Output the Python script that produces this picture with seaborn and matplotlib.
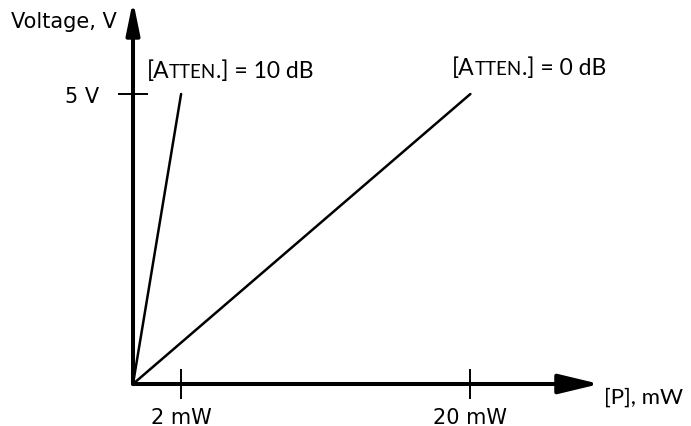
import numpy as np
import pandas as pd
import seaborn as sns
import matplotlib.pyplot as plt
from matplotlib.offsetbox import TextArea, HPacker, AnnotationBbox

power_10db = [0, 2]     # mW
volt_10db = [0, 5]      # V
power_0db = [0, 20]
volt_0db = [0, 5]
x_ticks = [2, 20]
x_tick_labels = ['2 mW', '20 mW']
y_ticks = [5]
y_tick_labels = ['5 V']
atten_labels = ['10 dB', '0 dB']

df = pd.DataFrame({
    'power': power_10db + power_0db,
    'voltage': volt_10db + volt_0db,
    'atten': [atten_labels[0]] * 2 + [atten_labels[1]] * 2,
})

sns.set_style('white')
plt.rcParams['font.family'] = ['DejaVu Sans']
plt.rcParams['text.color'] = 'black'
plt.rcParams['xtick.color'] = 'black'
plt.rcParams['ytick.color'] = 'black'

fig = plt.figure(figsize=(6.91, 4.27), dpi=100)
ax = fig.add_axes([133 / 691, 42 / 427, 462 / 691, 377 / 427])

# schematic x axis is compressed, not linear
k = 0.846
ax.set_xscale('function', functions=(lambda x: np.sign(x) * np.abs(x) ** k,
                                     lambda x: np.sign(x) * np.abs(x) ** (1 / k)))

sns.lineplot(data=df, x='power', y='voltage', units='atten', estimator=None,
             color='black', lw=1.8, ax=ax, legend=False)

ax.set_xlim(0, 29)
ax.set_ylim(0, 6.5)
for s in ax.spines.values():
    s.set_visible(False)

# axes with arrow heads
ax.annotate('', xy=(1.01, 0), xytext=(0, 0), xycoords='axes fraction',
            arrowprops=dict(arrowstyle='-|>,head_length=2.5,head_width=0.6',
                            lw=2.9, color='black', shrinkA=0, shrinkB=0,
                            mutation_scale=10), annotation_clip=False)
ax.annotate('', xy=(0, 1.017), xytext=(0, 0), xycoords='axes fraction',
            arrowprops=dict(arrowstyle='-|>,head_length=1.95,head_width=0.4',
                            lw=2.9, color='black', shrinkA=0, shrinkB=0,
                            mutation_scale=10), annotation_clip=False)

ax.set_xticks(x_ticks)
ax.set_xticklabels(x_tick_labels)
ax.set_yticks(y_ticks)
ax.set_yticklabels(y_tick_labels)
ax.xaxis.set_minor_locator(plt.NullLocator())
ax.tick_params(axis='both', direction='inout', length=21, width=1.4,
               color='black', labelcolor='black', labelsize=15,
               bottom=True, left=True)
ax.tick_params(axis='x', pad=6)
ax.tick_params(axis='y', pad=14)
ax.set_xlabel('')
ax.set_ylabel('')

ax.text(1.019, -0.034, '[P], mW', transform=ax.transAxes, fontsize=16,
        family=['Lato', 'DejaVu Sans'], ha='left', va='center', color='black')
ax.text(-0.035, 0.963, 'Voltage, V', transform=ax.transAxes, fontsize=15,
        ha='right', va='center', color='black')


def small_caps_label(value, xy, offset):
    big = dict(fontsize=16.5, family=['Lato', 'DejaVu Sans'], color='black')
    small = dict(fontsize=13.5, family=['Lato', 'DejaVu Sans'], color='black')
    box = HPacker(children=[TextArea('[A', textprops=big),
                            TextArea('TTEN', textprops=small),
                            TextArea('.] = ' + value, textprops=big)],
                  align='baseline', pad=0, sep=0)
    ab = AnnotationBbox(box, xy, xybox=offset, xycoords='data',
                        boxcoords='offset points', box_alignment=(0, 0.5),
                        frameon=False, annotation_clip=False)
    ax.add_artist(ab)


small_caps_label(atten_labels[0], (power_10db[1], volt_10db[1]), (-25, 17))
small_caps_label(atten_labels[1], (power_0db[1], volt_0db[1]), (-13, 19))

fig.savefig('out.png', dpi=100)
